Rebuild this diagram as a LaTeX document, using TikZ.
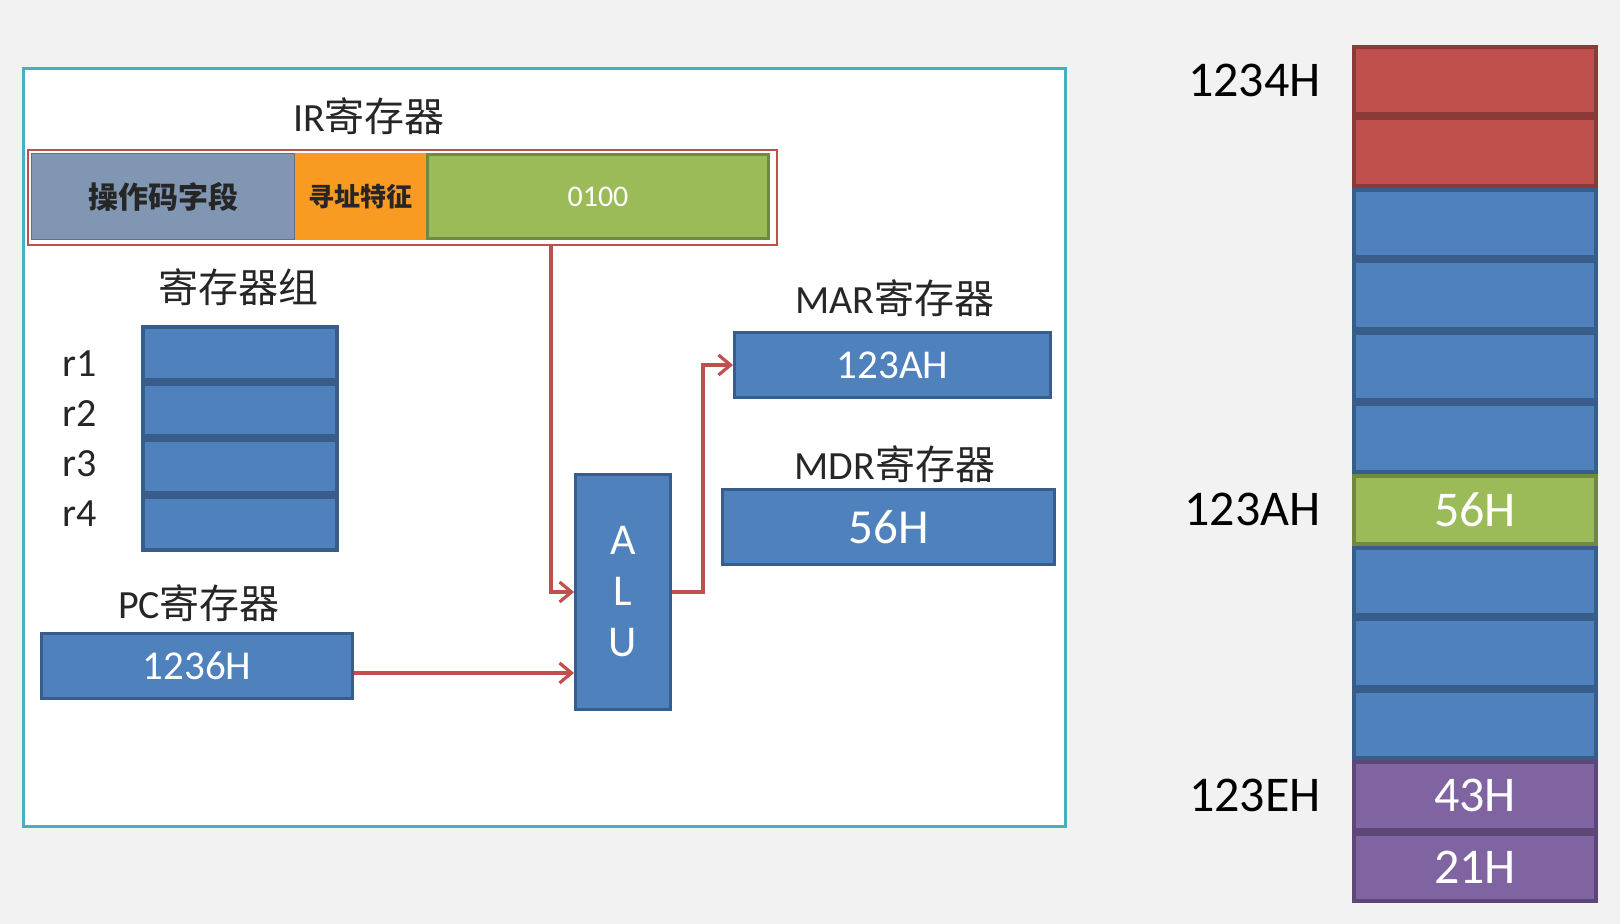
\documentclass[tikz,border=0pt]{standalone}
\usepackage{xcolor}
\usepackage{fontspec}
\usepackage{tikz}
\usetikzlibrary{arrows.meta}
\setmainfont{Carlito}
\newfontfamily\cjk{Noto Sans CJK SC}
\definecolor{bgray}{HTML}{F2F2F2}
\definecolor{panelline}{HTML}{4BACC6}
\definecolor{regblue}{HTML}{4F81BD}
\definecolor{regblueline}{HTML}{385D8A}
\definecolor{memred}{HTML}{C0504D}
\definecolor{memredline}{HTML}{8C3A38}
\definecolor{memgreen}{HTML}{9BBB59}
\definecolor{memgreenline}{HTML}{71893F}
\definecolor{mempurple}{HTML}{8064A2}
\definecolor{mempurpleline}{HTML}{5C4776}
\definecolor{opgray}{HTML}{8096B2}
\definecolor{addrorange}{HTML}{F99B22}
\definecolor{flowred}{HTML}{C0504D}
\definecolor{textgray}{HTML}{262626}

\begin{document}
\begin{tikzpicture}[x=0.5pt,y=-0.5pt,
  reg/.style={draw=regblueline,fill=regblue,line width=1.5pt,text=white,inner sep=0pt},
  regcell/.style={reg,line width=2pt,minimum width=97pt,minimum height=26.375pt},
  title/.style={text=textgray,inner sep=0pt,font=\fontsize{20}{24}\selectfont},
  memcell/.style={line width=2pt,inner sep=0pt,text=white,minimum width=121pt,minimum height=33.75pt,font=\fontsize{25}{30}\selectfont},
  redcell/.style={memcell,draw=memredline,fill=memred},
  bluecell/.style={memcell,draw=regblueline,fill=regblue},
  greencell/.style={memcell,draw=memgreenline,fill=memgreen},
  purplecell/.style={memcell,draw=mempurpleline,fill=mempurple},
  addr/.style={text=black,inner sep=0pt,anchor=east,font=\fontsize{25}{30}\selectfont},
  flow/.style={draw=flowred,line width=1.6pt,-{Straight Barb[length=6pt,width=10pt]}}]
\useasboundingbox (0,0) rectangle (1620,924);
\fill[bgray] (0,0) rectangle (1620,924);
\draw[panelline,fill=white,line width=1.5pt] (23,69) rectangle (1065,826);
%IR
\node[title] (irtitle) at (369,116) {IR{\cjk 寄存器}};
\node[draw=flowred,line width=0.75pt,minimum width=374.5pt,minimum height=47.5pt,inner sep=0pt] (irframe) at (402.5,197.5) {};
\node[fill=opgray,draw=opgray!75!black,line width=0.75pt,minimum width=131.5pt,minimum height=43pt,inner sep=0pt,text=textgray,font=\cjk\bfseries\fontsize{15}{18}\selectfont] (opfield) at (163,196.5) {操作码字段};
\node[fill=addrorange,minimum width=65.5pt,minimum height=43.5pt,inner sep=0pt,text=textgray,font=\cjk\bfseries\fontsize{13}{16}\selectfont] (modefield) at (360.5,196.5) {寻址特征};
\node[fill=memgreen,draw=memgreenline,line width=1.5pt,minimum width=170.5pt,minimum height=42pt,inner sep=0pt,text=white,font=\fontsize{15}{18}\selectfont] (addrfield) at (598,196.5) {0100};
%registers
\node[title] (grptitle) at (238,287) {\cjk 寄存器组};
\foreach \i in {1,...,4} {
  \node[regcell] (r\i) at (240,{325+56.75*(\i-0.5)}) {};
  \node[title] (rname\i) at (80,{314+50*\i}) {r\i};
}
\node[title] (pctitle) at (199,603) {PC{\cjk 寄存器}};
\node[reg,minimum width=155.5pt,minimum height=32.5pt,font=\fontsize{20.5}{24}\selectfont] (pc) at (197,666) {1236H};
\node[reg,minimum width=47.5pt,minimum height=117.5pt,align=center,font=\fontsize{22}{25.5}\selectfont] (alu) at (623,592) {A\\L\\U};
\node[title] (martitle) at (895,298) {MAR{\cjk 寄存器}};
\node[reg,minimum width=158pt,minimum height=32.5pt,font=\fontsize{20.5}{24}\selectfont] (mar) at (892.5,365) {123AH};
\node[title] (mdrtitle) at (895,464) {MDR{\cjk 寄存器}};
\node[reg,minimum width=166pt,minimum height=37.5pt,font=\fontsize{24.5}{29}\selectfont] (mdr) at (888.5,527) {56H};
%memory
\foreach \i/\kind/\val in {1/redcell/{},2/redcell/{},3/bluecell/{},4/bluecell/{},5/bluecell/{},6/bluecell/{},7/greencell/56H,8/bluecell/{},9/bluecell/{},10/bluecell/{},11/purplecell/43H,12/purplecell/21H}
  \node[\kind] (m\i) at (1475,{80.75+71.5*(\i-1)}) {\val};
\node[addr] (addr1) at ([xshift=-15.5pt]m1.west) {1234H};
\node[addr] (addr7) at ([xshift=-15.5pt]m7.west) {123AH};
\node[addr] (addr11) at ([xshift=-15.5pt]m11.west) {123EH};
%arrows
\coordinate (tap) at (551,245);
\draw[flow] (tap) |- (alu.west);
\draw[flow] ([yshift=-3.5pt]pc.east) -- ([yshift=-3.5pt]pc.east -| alu.west);
\draw[flow] (alu.east) -- ++(31,0) |- (mar.west);
\end{tikzpicture}
\end{document}
